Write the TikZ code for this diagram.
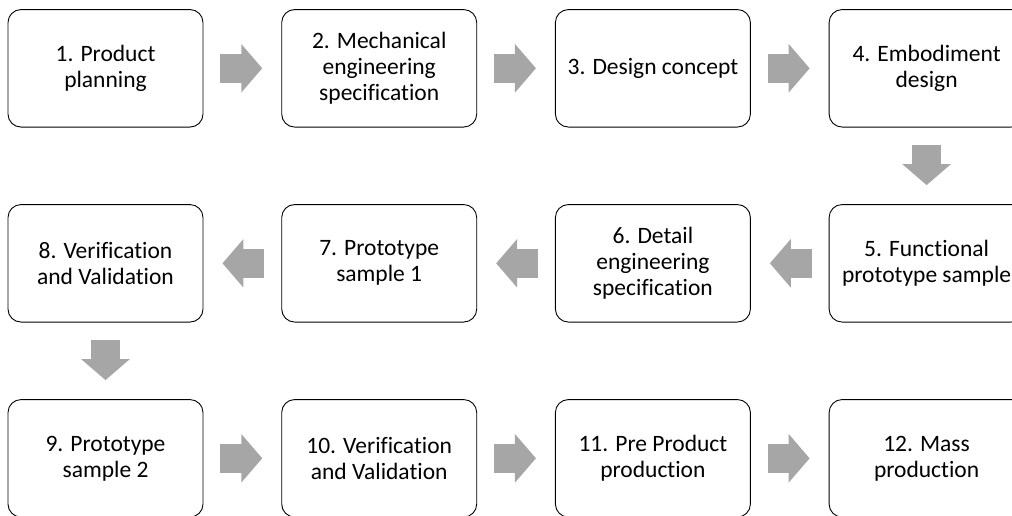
\documentclass[tikz,border=0pt]{standalone}
\usepackage{fontspec}
\setmainfont[Ligatures=CommonOff]{Carlito}
\usetikzlibrary{arrows.meta}
\definecolor{flowgray}{HTML}{A6A6A6}
\tikzset{
  stage/.style={draw=black, line width=0.9pt, rounded corners=13pt,
    minimum width=195pt, minimum height=117.5pt, align=center,
    font=\fontsize{23.5pt}{26pt}\selectfont, inner sep=2pt},
  flow/.style={draw=flowgray, line width=29pt,
    -{Triangle[width=47.5pt,length=21pt]},
    shorten <=17pt, shorten >=19pt},
}
\begin{document}
\begin{tikzpicture}[x=1pt,y=-1pt]
  \useasboundingbox (0,0) rectangle (1012,515);
  \clip (0,0) rectangle (1012,515);
  % row 1
  \node[stage] (s1)  at (105.5,68.3) {1. Product\\planning};
  \node[stage] (s2)  at (379.2,68.3) {2. Mechanical\\engineering\\specification};
  \node[stage] (s3)  at (652.9,68.3) {3. Design concept};
  \node[stage] (s4)  at (926.6,68.3) {4. Embodiment\\design};
  % row 2
  \node[stage] (s5)  at (926.6,263.3) {5. Functional\\prototype sample};
  \node[stage] (s6)  at (652.9,263.3) {6. Detail\\engineering\\specification};
  \node[stage] (s7)  at (379.2,263.3) {7. Prototype\\sample 1};
  \node[stage] (s8)  at (105.5,263.3) {8. Verification\\and Validation};
  % row 3
  \node[stage] (s9)  at (105.5,458.3) {9. Prototype\\sample 2};
  \node[stage] (s10) at (379.2,458.3) {10. Verification\\and Validation};
  \node[stage] (s11) at (652.9,458.3) {11. Pre Product\\production};
  \node[stage] (s12) at (926.6,458.3) {12. Mass\\production};
  % connectors
  \draw[flow] (s1.east) -- (s2.west);
  \draw[flow] (s2.east) -- (s3.west);
  \draw[flow] (s3.east) -- (s4.west);
  \draw[flow] (s4.south) -- (s5.north);
  \draw[flow] (s5.west) -- (s6.east);
  \draw[flow] (s6.west) -- (s7.east);
  \draw[flow] (s7.west) -- (s8.east);
  \draw[flow] (s8.south) -- (s9.north);
  \draw[flow] (s9.east) -- (s10.west);
  \draw[flow] (s10.east) -- (s11.west);
  \draw[flow] (s11.east) -- (s12.west);
\end{tikzpicture}
\end{document}
